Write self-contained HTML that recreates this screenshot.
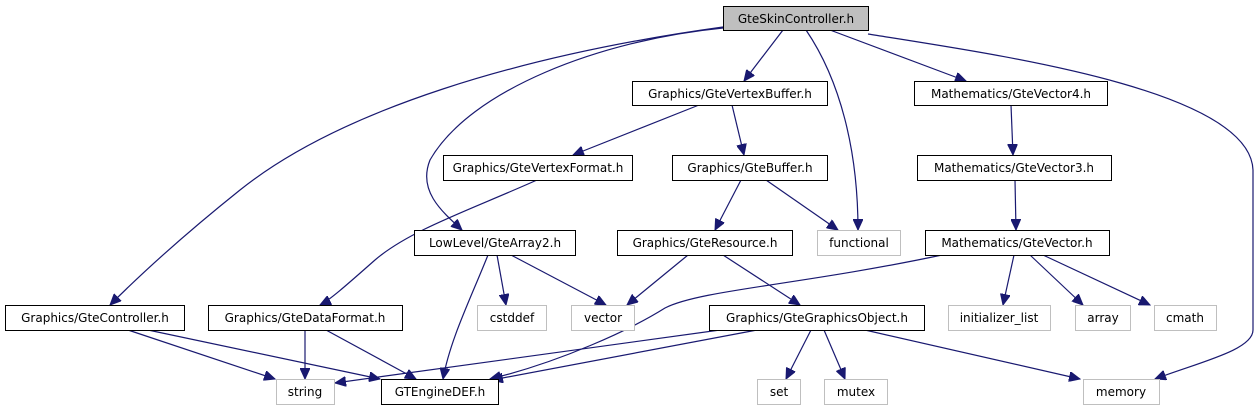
<!DOCTYPE html>
<html><head><meta charset="utf-8"><style>
html,body{margin:0;padding:0;background:#fff;}
svg{display:block;}
text{font-family:"DejaVu Sans","Liberation Sans",sans-serif;font-size:12px;fill:#000;}
</style></head><body>
<svg width="1260" height="411" viewBox="0 0 1260 411" xmlns="http://www.w3.org/2000/svg">
<defs>
<marker id="a" markerUnits="userSpaceOnUse" markerWidth="12" markerHeight="10" refX="11" refY="5" orient="auto">
<path d="M0,0 L11,5 L0,10 Z" fill="#191970" stroke="#191970"/>
</marker>
</defs>
<g fill="none" stroke="#191970" stroke-width="1.2" marker-end="url(#a)">
<path d="M783,30 L744,81"/>
<path d="M806,30 C840,80 858,150 858,230"/>
<path d="M830,30 L966,81"/>
<path d="M868,34 C1000,55 1250,90 1253,170 L1253,330 C1253,350 1200,362 1155,379"/>
<path d="M723,28 C600,40 470,90 430,160 C418,190 440,210 462,230"/>
<path d="M723,27 C520,55 340,110 240,190 C180,238 140,275 110,305"/>
<path d="M699,105 L573,155"/>
<path d="M732,105 L744,155"/>
<path d="M1011,105 L1013,155"/>
<path d="M1015,180 L1016,230"/>
<path d="M537,180 C470,210 410,230 375,260 C350,282 330,300 320,305"/>
<path d="M741,180 L715,230"/>
<path d="M766,180 L838,230"/>
<path d="M497,255 L506,305"/>
<path d="M511,255 L606,305"/>
<path d="M488,255 C470,300 450,340 443,379"/>
<path d="M688,255 L627,305"/>
<path d="M723,255 L800,305"/>
<path d="M942,255 C800,285 700,290 665,308 C630,330 560,362 490,379"/>
<path d="M1014,255 L1003,305"/>
<path d="M1030,255 L1083,305"/>
<path d="M1043,255 L1150,305"/>
<path d="M128,330 L275,379"/>
<path d="M148,330 L380,379"/>
<path d="M305,330 L305,379"/>
<path d="M326,330 L416,379"/>
<path d="M720,330 L335,383"/>
<path d="M757,330 L492,380"/>
<path d="M811,330 L786,379"/>
<path d="M824,330 L845,379"/>
<path d="M865,330 L1080,379"/>
</g>
<g stroke-width="1" text-anchor="middle">
<rect x="723.5" y="6.5" width="145" height="24" fill="#bfbfbf" stroke="#000"/><text x="796" y="23">GteSkinController.h</text>
<rect x="632.5" y="81.5" width="195" height="24" fill="#fff" stroke="#000"/><text x="730" y="98">Graphics/GteVertexBuffer.h</text>
<rect x="914.5" y="81.5" width="193" height="24" fill="#fff" stroke="#000"/><text x="1011" y="98">Mathematics/GteVector4.h</text>
<rect x="443.5" y="155.5" width="189" height="25" fill="#fff" stroke="#000"/><text x="538" y="172">Graphics/GteVertexFormat.h</text>
<rect x="672.5" y="155.5" width="155" height="25" fill="#fff" stroke="#000"/><text x="750" y="172">Graphics/GteBuffer.h</text>
<rect x="917.5" y="155.5" width="194" height="25" fill="#fff" stroke="#000"/><text x="1014" y="172">Mathematics/GteVector3.h</text>
<rect x="414.5" y="230.5" width="161" height="25" fill="#fff" stroke="#000"/><text x="495" y="247">LowLevel/GteArray2.h</text>
<rect x="617.5" y="230.5" width="175" height="25" fill="#fff" stroke="#000"/><text x="705" y="247">Graphics/GteResource.h</text>
<rect x="817.5" y="230.5" width="83" height="25" fill="#fff" stroke="#bfbfbf"/><text x="859" y="247">functional</text>
<rect x="925.5" y="230.5" width="184" height="25" fill="#fff" stroke="#000"/><text x="1017" y="247">Mathematics/GteVector.h</text>
<rect x="5.5" y="305.5" width="179" height="25" fill="#fff" stroke="#000"/><text x="95" y="322">Graphics/GteController.h</text>
<rect x="208.5" y="305.5" width="194" height="25" fill="#fff" stroke="#000"/><text x="305" y="322">Graphics/GteDataFormat.h</text>
<rect x="477.5" y="305.5" width="69" height="25" fill="#fff" stroke="#bfbfbf"/><text x="512" y="322">cstddef</text>
<rect x="571.5" y="305.5" width="63" height="25" fill="#fff" stroke="#bfbfbf"/><text x="603" y="322">vector</text>
<rect x="709.5" y="305.5" width="215" height="25" fill="#fff" stroke="#000"/><text x="817" y="322">Graphics/GteGraphicsObject.h</text>
<rect x="948.5" y="305.5" width="102" height="25" fill="#fff" stroke="#bfbfbf"/><text x="999" y="322">initializer_list</text>
<rect x="1075.5" y="305.5" width="55" height="25" fill="#fff" stroke="#bfbfbf"/><text x="1103" y="322">array</text>
<rect x="1154.5" y="305.5" width="62" height="25" fill="#fff" stroke="#bfbfbf"/><text x="1185" y="322">cmath</text>
<rect x="276.5" y="379.5" width="58" height="25" fill="#fff" stroke="#bfbfbf"/><text x="305" y="396">string</text>
<rect x="381.5" y="379.5" width="117" height="25" fill="#fff" stroke="#000"/><text x="440" y="396">GTEngineDEF.h</text>
<rect x="757.5" y="379.5" width="43" height="25" fill="#fff" stroke="#bfbfbf"/><text x="779" y="396">set</text>
<rect x="824.5" y="379.5" width="63" height="25" fill="#fff" stroke="#bfbfbf"/><text x="856" y="396">mutex</text>
<rect x="1083.5" y="379.5" width="76" height="25" fill="#fff" stroke="#bfbfbf"/><text x="1121" y="396">memory</text>
</g>
</svg>
</body></html>
